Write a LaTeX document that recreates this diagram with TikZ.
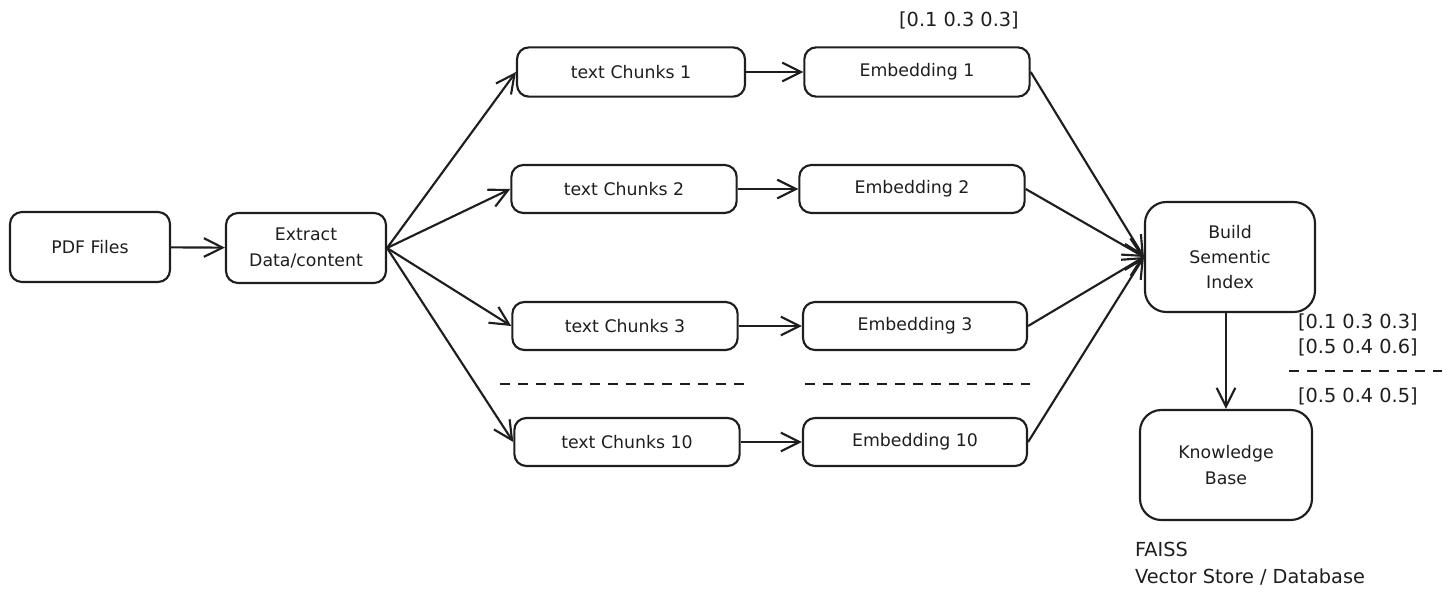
\documentclass[tikz,border=0pt]{standalone}
\usepackage{fontspec}
\setmainfont{DejaVu Sans}
\usetikzlibrary{arrows.meta}

\definecolor{ink}{HTML}{1E1E1E}
\tikzset{every picture/.style={line width=1.6pt}}
\tikzset{
  box/.style={draw=ink, rounded corners=9pt, align=center, text=ink, inner sep=0pt,
    font=\fontsize{13}{19}\selectfont},
  vec/.style={text=ink, inner sep=0.75pt, font=\fontsize{14.5}{20}\selectfont, align=left},
  flow/.style={draw=ink, -{Straight Barb[length=14pt,width=14pt,line width=1.6pt]}},
  gap/.style={draw=ink, dash pattern={on 7.5pt off 6pt}}
}

\begin{document}
\begin{tikzpicture}[x=0.75pt,y=0.75pt,yscale=-1,xscale=1]
\useasboundingbox (0,0) rectangle (1450,600);

% Boxes
\node[box, minimum width=120pt, minimum height=52.5pt] (pdf) at (90,247) {PDF Files};
\node[box, minimum width=120pt, minimum height=52.5pt] (extract) at (306,248) {Extract\\Data/content};
\node[box, minimum width=171pt, minimum height=37pt] (chunkA) at (631,72) {text Chunks 1};
\node[box, minimum width=169pt, minimum height=37pt] (embA) at (917,72) {Embedding 1};
\node[box, minimum width=169pt, minimum height=36pt] (chunkB) at (624,189) {text Chunks 2};
\node[box, minimum width=169pt, minimum height=36pt] (embB) at (912,189) {Embedding 2};
\node[box, minimum width=169pt, minimum height=36pt] (chunkC) at (625,326) {text Chunks 3};
\node[box, minimum width=168pt, minimum height=36pt] (embC) at (915,326) {Embedding 3};
\node[box, minimum width=169pt, minimum height=36pt] (chunkD) at (627,442) {text Chunks 10};
\node[box, minimum width=168pt, minimum height=36pt] (embD) at (915,442) {Embedding 10};
\node[box, minimum width=127.5pt, minimum height=82.5pt, rounded corners=16pt] (index) at (1230,257) {Build\\Sementic\\Index};
\node[box, minimum width=129pt, minimum height=82.5pt, rounded corners=16pt] (kb) at (1226,465) {Knowledge\\Base};

% Arrows
\draw[flow] (pdf) -- (extract);
\draw[flow] (extract.east) -- (chunkA.west);
\draw[flow] (extract.east) -- (chunkB.west);
\draw[flow] (extract.east) -- (chunkC.west);
\draw[flow] (extract.east) -- (chunkD.west);
\draw[flow] (chunkA) -- (embA);
\draw[flow] (chunkB) -- (embB);
\draw[flow] (chunkC) -- (embC);
\draw[flow] (chunkD) -- (embD);
\draw[flow] (embA.east) -- (index.west);
\draw[flow] (embB.east) -- (index.west);
\draw[flow] (embC.east) -- (index.west);
\draw[flow] (embD.east) -- (index.west);
\draw[flow] (kb.north |- index.south) -- (kb.north);

% Dashed separators
\draw[gap] (500,384) -- (745,384);
\draw[gap] (805,384) -- (1030,384);
\draw[gap] (1289,371) -- (1442,371);

% Text Node
\node[vec] (vecTop) at (959,20) {[0.1 0.3 0.3]};
% Text Node
\node[vec, anchor=west] (vecA) at (1296,322) {[0.1 0.3 0.3]};
% Text Node
\node[vec, anchor=west] (vecB) at (1296,347) {[0.5 0.4 0.6]};
% Text Node
\node[vec, anchor=west] (vecC) at (1296,396) {[0.5 0.4 0.5]};
% Text Node
\node[vec, anchor=west] (store) at (1133,564) {FAISS\\Vector Store / Database};

\end{tikzpicture}
\end{document}
